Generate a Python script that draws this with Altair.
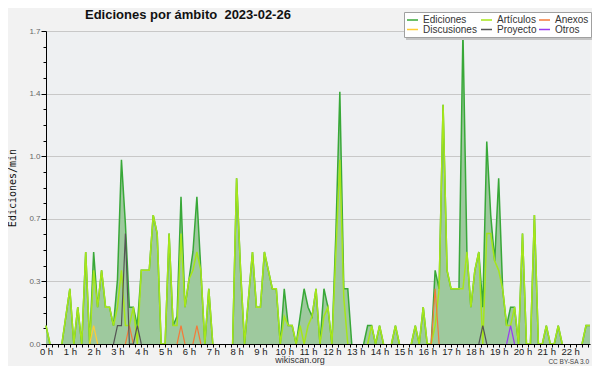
import altair as alt
import pandas as pd

# ---------------- data (10-minute bins, edits per minute) ----------------
SERIES = ["Ediciones", "Artículos", "Anexos", "Discusiones", "Proyecto", "Otros"]
COLORS = ["#38a838", "#a6e61a", "#f47a3a", "#ffcc33", "#555555", "#9a3cf0"]
AREA_FILL = "#9ec99e"

BIN_MINUTES = 10

ediciones = [
    0.1, 0, 0, 0, 0, 0.15, 0.3, 0, 0.2, 0,
    0.5, 0, 0.5, 0.2, 0.4, 0.2, 0.2, 0.1, 0.35, 1.0,
    0.65, 0.2, 0.2, 0.1, 0.4, 0.4, 0.4, 0.7, 0.6, 0,
    0, 0.6, 0.1, 0.15, 0.8, 0.2, 0.35, 0.5, 0.8, 0.4,
    0, 0.3, 0, 0, 0, 0, 0, 0, 0.9, 0.4,
    0, 0.25, 0.5, 0.2, 0.2, 0.5, 0.4, 0.3, 0.3, 0,
    0.3, 0.1, 0.1, 0, 0.15, 0.3, 0.2, 0.15, 0.3, 0,
    0.3, 0.2, 0, 0.6, 1.37, 0.3, 0.3, 0, 0, 0,
    0, 0.1, 0.1, 0, 0.1, 0, 0, 0, 0.1, 0,
    0, 0, 0, 0.1, 0, 0.2, 0, 0, 0.4, 0.3,
    1.3, 0.4, 0.3, 0.3, 0.3, 1.7, 0.5, 0.2, 0.4, 0.5,
    0.2, 1.1, 0.7, 0.45, 0.9, 0.3, 0.1, 0.2, 0.2, 0,
    0.6, 0, 0, 0.7, 0, 0, 0.1, 0, 0, 0.1,
    0, 0, 0, 0, 0, 0, 0.1, 0.1,
]

articulos = [
    0.1, 0, 0, 0, 0, 0.15, 0.3, 0, 0.2, 0,
    0.5, 0, 0.4, 0.2, 0.4, 0.2, 0.2, 0.1, 0.2, 0.4,
    0.1, 0.1, 0.2, 0, 0.4, 0.4, 0.4, 0.7, 0.6, 0,
    0, 0.6, 0.1, 0.1, 0.6, 0.2, 0.35, 0.4, 0.5, 0.4,
    0, 0.3, 0, 0, 0, 0, 0, 0, 0.9, 0.4,
    0, 0.25, 0.5, 0.2, 0.2, 0.5, 0.4, 0.3, 0.3, 0,
    0.15, 0.1, 0.1, 0, 0.1, 0, 0.1, 0.15, 0.3, 0,
    0.15, 0.2, 0, 0.5, 1.0, 0.25, 0, 0, 0, 0,
    0, 0, 0.1, 0, 0.1, 0, 0, 0, 0.1, 0,
    0, 0, 0, 0.1, 0, 0.2, 0, 0, 0.1, 0.3,
    1.3, 0.4, 0.3, 0.3, 0.3, 0.3, 0.5, 0.2, 0.4, 0.5,
    0, 0.6, 0.6, 0.45, 0.4, 0.3, 0.1, 0.1, 0.2, 0,
    0.6, 0, 0, 0.7, 0, 0, 0.1, 0, 0, 0.1,
    0, 0, 0, 0, 0, 0, 0.1, 0.1,
]

anexos_idx = [21, 34, 38, 98]
anexos_val = [0.1, 0.1, 0.1, 0.3]
discusiones_idx = [12]
discusiones_val = [0.1]
proyecto_idx = [18, 19, 20, 23, 110]
proyecto_val = [0.1, 0.1, 0.6, 0.1, 0.1]
otros_idx = [117]
otros_val = [0.1]

Y_MAX = 1.7
Y_STEP_MINOR = 0.085
HOUR_LABEL_SUFFIX = " h"

TITLE = ["Ediciones por ámbito\u00a0 2023-02-26"]
Y_TITLE = ["Ediciones/min"]
FOOTER = ["wikiscan.org"]
LICENSE = ["CC BY-SA 3.0"]

# ---------------- build tables ----------------
N = len(ediciones)


def sparse(idx, val):
    out = [0.0] * N
    for i, v in zip(idx, val):
        out[i] = v
    return out


series_values = {
    "Ediciones": ediciones,
    "Artículos": articulos,
    "Anexos": sparse(anexos_idx, anexos_val),
    "Discusiones": sparse(discusiones_idx, discusiones_val),
    "Proyecto": sparse(proyecto_idx, proyecto_val),
    "Otros": sparse(otros_idx, otros_val),
}


def runs(vals):
    n = len(vals)
    keep = [vals[i] > 0 or (i > 0 and vals[i - 1] > 0) or (i < n - 1 and vals[i + 1] > 0)
            for i in range(n)]
    seg, prev, out = -1, False, []
    for i in range(n):
        if keep[i]:
            if not prev:
                seg += 1
            out.append((i, vals[i], seg))
        prev = keep[i]
    return out


rows = []
for s in SERIES:
    for i, v, seg in runs(series_values[s]):
        rows.append({"t": i * BIN_MINUTES / 60.0, "v": v, "series": s, "seg": seg})
lines_df = pd.DataFrame(rows)

area_df = pd.DataFrame({"t": [i * BIN_MINUTES / 60.0 for i in range(N)], "v": ediciones})

X_END = (N - 1) * BIN_MINUTES / 60.0

# ---------------- legend layout (pixels, relative to plot origin) ----------------
LEG_COL_X = [361, 435, 493]     # symbol start of each column
LEG_ROW_Y = [-11, -1.5]         # row centre
LEG_SYM_LEN = 11
LEG_TEXT_GAP = 16
leg_rows = []
for k, s in enumerate(SERIES):
    c, r = k % 3, k // 3
    leg_rows.append({
        "label": s, "color": COLORS[k],
        "x0": LEG_COL_X[c], "x1": LEG_COL_X[c] + LEG_SYM_LEN,
        "xt": LEG_COL_X[c] + LEG_TEXT_GAP, "y": LEG_ROW_Y[r],
    })
leg_df = pd.DataFrame(leg_rows)

# ---------------- encodings ----------------
FONT = "Liberation Sans"
major_test = f"round(datum.value/{Y_STEP_MINOR}) % 4 == 0"

x_enc = alt.X(
    "t:Q",
    scale=alt.Scale(domain=[0, X_END], nice=False, zero=False),
    axis=alt.Axis(
        values=[k * 0.25 for k in range(int(X_END / 0.25) + 1)],
        labelExpr=f"datum.value % 1 == 0 ? datum.value + '{HOUR_LABEL_SUFFIX}' : ''",
        tickSize=3, tickColor="black", tickWidth=1,
        domainColor="black", domainWidth=1,
        labelFont=FONT, labelFontSize=9.5, labelColor="#222222",
        labelPadding=-1, labelFlush=False, labelOverlap=False, labelBound=False,
        grid=False, zindex=1, title=None,
    ),
)

y_enc = alt.Y(
    "v:Q",
    scale=alt.Scale(domain=[0, Y_MAX], nice=False),
    axis=alt.Axis(
        values=[round(k * Y_STEP_MINOR, 4) for k in range(int(round(Y_MAX / Y_STEP_MINOR)) + 1)],
        labelExpr=f"{major_test} ? format(datum.value, '.1f') : ''",
        tickSize={"condition": {"test": major_test, "value": 5}, "value": 3},
        tickColor="black", domainColor="black",
        labelFont=FONT, labelFontSize=8, labelColor="#666666", labelPadding=1,
        labelOverlap=False,
        grid=True, gridColor="#c8c8c8",
        gridOpacity={"condition": {"test": major_test, "value": 1}, "value": 0},
        title=None,
    ),
)

color_enc = alt.Color("series:N", scale=alt.Scale(domain=SERIES, range=COLORS), legend=None)

area = alt.Chart(area_df).mark_area(color=AREA_FILL, opacity=1, interpolate="linear").encode(
    x=x_enc, y=y_enc
)

layers = [area]
widths = {"Ediciones": 1.5, "Artículos": 1.5}
for s in SERIES:
    layers.append(
        alt.Chart(lines_df[lines_df.series == s]).mark_line(
            strokeWidth=widths.get(s, 1.2), interpolate="linear"
        ).encode(x=x_enc, y=y_enc, color=color_enc, detail="seg:N")
    )

one = pd.DataFrame({"k": [0]})
shadow = alt.Chart(one).mark_rect(color="#c4c4c4").encode(
    x=alt.value(360), x2=alt.value(548), y=alt.value(-17), y2=alt.value(9)
)
box = alt.Chart(one).mark_rect(fill="white", stroke="#a0a0a0", strokeWidth=1).encode(
    x=alt.value(358.5), x2=alt.value(545.5), y=alt.value(-18.5), y2=alt.value(6.5)
)
leg_sym = alt.Chart(leg_df).mark_rule(strokeWidth=1.5).encode(
    x=alt.X("x0:Q", scale=None), x2="x1:Q", y=alt.Y("y:Q", scale=None),
    color=alt.Color("color:N", scale=None),
)
leg_txt = alt.Chart(leg_df).mark_text(
    font=FONT, fontSize=10, color="#333333", align="left", baseline="middle"
).encode(x=alt.X("xt:Q", scale=None), y=alt.Y("y:Q", scale=None), text="label:N")

title = alt.Chart(pd.DataFrame({"label": TITLE})).mark_text(
    font=FONT, fontSize=13, fontWeight="bold", color="#111111", align="left", baseline="alphabetic"
).encode(x=alt.value(39), y=alt.value(-12), text="label:N")

ytitle = alt.Chart(pd.DataFrame({"label": Y_TITLE})).mark_text(
    font="DejaVu Sans Mono", fontSize=10, color="#111111", angle=270, align="center", baseline="middle"
).encode(x=alt.value(-33), y=alt.value(157), text="label:N")

footer = alt.Chart(pd.DataFrame({"label": FOOTER})).mark_text(
    font=FONT, fontSize=9, color="#333333", align="center", baseline="alphabetic"
).encode(x=alt.value(254), y=alt.value(332), text="label:N")

license_txt = alt.Chart(pd.DataFrame({"label": LICENSE})).mark_text(
    font=FONT, fontSize=6.5, color="#444444", align="right", baseline="alphabetic"
).encode(x=alt.value(543), y=alt.value(333), text="label:N")

chart = alt.layer(
    *layers, shadow, box, leg_sym, leg_txt, title, ytitle, footer, license_txt
).properties(
    width=544, height=313,
    autosize=alt.AutoSizeParams(type="none"),
    padding={"left": 38, "top": 23, "right": 2, "bottom": 22},
    background="#f2f2f2",
).configure_view(stroke=None, fill="#eef0f2")

chart.save("out.html", embed_options={"renderer": "svg", "actions": False})
